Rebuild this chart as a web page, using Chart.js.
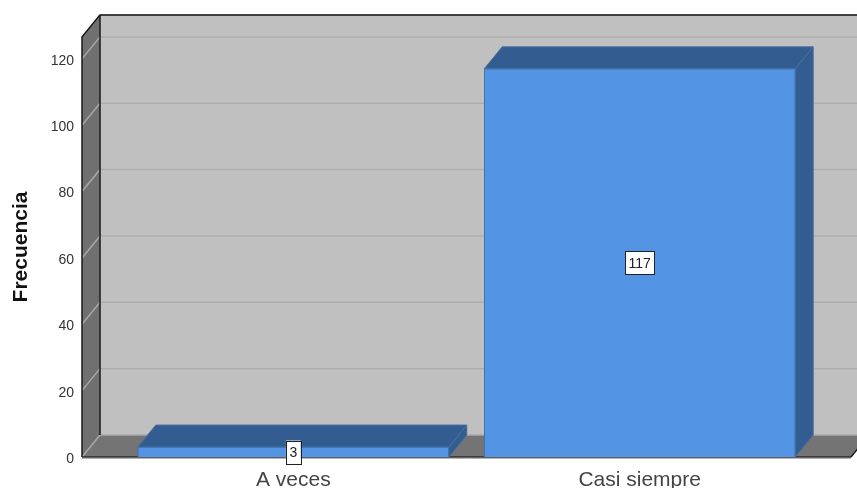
<!DOCTYPE html>
<html>
<head>
<meta charset="utf-8">
<style>
  html, body { margin: 0; padding: 0; background: #fff; overflow: hidden; }
  canvas { display: block; }
</style>
<script src="https://cdn.jsdelivr.net/npm/chart.js@4/dist/chart.umd.min.js"></script>
</head>
<body>
<canvas id="grafico" width="857" height="488"></canvas>
<script>
const categorias = ['A veces', 'Casi siempre'];
const posiciones = [0, 1];
const frecuencias = [3, 117];
const ejeY = [0, 20, 40, 60, 80, 100, 120];

// desplazamiento de la perspectiva 3D
const DX = 18, DY = 22;

function poly(ctx, pts, fill, stroke, lw) {
  ctx.beginPath();
  pts.forEach((p, i) => i ? ctx.lineTo(p[0], p[1]) : ctx.moveTo(p[0], p[1]));
  ctx.closePath();
  if (fill) { ctx.fillStyle = fill; ctx.fill(); }
  if (stroke) { ctx.strokeStyle = stroke; ctx.lineWidth = lw || 1; ctx.stroke(); }
}

function linea(ctx, x1, y1, x2, y2, color, lw) {
  ctx.beginPath();
  ctx.moveTo(x1, y1);
  ctx.lineTo(x2, y2);
  ctx.strokeStyle = color;
  ctx.lineWidth = lw;
  ctx.stroke();
}

const caja3D = {
  id: 'caja3D',
  beforeDraw(chart) {
    // baja un poco las etiquetas del eje Y
    chart.scales.y.getLabelItems().forEach(it => {
      if (!it.bajada) { it.options.translation[1] += 2; it.bajada = true; }
    });
  },
  beforeDatasetsDraw(chart) {
    const { ctx, chartArea: a, scales: { y } } = chart;
    ctx.save();
    // pared del fondo, pared lateral y piso
    poly(ctx, [[a.left + DX, a.top - DY], [a.right + DX, a.top - DY], [a.right + DX, a.bottom - DY], [a.left + DX, a.bottom - DY]], '#c0c0c0');
    poly(ctx, [[a.left, a.top], [a.left + DX, a.top - DY], [a.left + DX, a.bottom - DY], [a.left, a.bottom]], '#707070');
    poly(ctx, [[a.left, a.bottom], [a.left + DX, a.bottom - DY], [a.right + DX, a.bottom - DY], [a.right, a.bottom]], '#747474');
    ejeY.slice(1).concat([y.max]).forEach(v => {
      const py = y.getPixelForValue(v);
      linea(ctx, a.left + DX, py - DY, a.right + DX, py - DY, '#aeaeae', 1.5);
      linea(ctx, a.left, py, a.left + DX, py - DY, '#a8a8a8', 1.5);
    });
    linea(ctx, a.left, a.bottom, a.left + DX, a.bottom - DY, '#a8a8a8', 1.5);
    linea(ctx, a.left + DX, a.bottom - DY, a.right + DX, a.bottom - DY, '#a8a8a8', 1.5);
    // bordes negros
    ctx.lineJoin = 'round';
    ctx.beginPath();
    ctx.moveTo(a.left, a.bottom);
    ctx.lineTo(a.left, a.top);
    ctx.lineTo(a.left + DX, a.top - DY);
    ctx.lineTo(a.right + DX, a.top - DY);
    ctx.moveTo(a.left + DX, a.top - DY);
    ctx.lineTo(a.left + DX, a.bottom - DY);
    ctx.strokeStyle = '#1a1a1a';
    ctx.lineWidth = 1.5;
    ctx.stroke();
    linea(ctx, a.left, a.bottom, a.right, a.bottom, '#2b2b2b', 1.5);
    linea(ctx, a.right, a.bottom, a.right + DX, a.bottom - DY, '#1a1a1a', 1.5);
    linea(ctx, a.left, a.bottom + 1.5, a.right, a.bottom + 1.5, '#b5b5b5', 1);
    // tapa y costado de cada barra
    chart.getDatasetMeta(0).data.forEach(b => {
      const l = b.x - b.width / 2, r = b.x + b.width / 2;
      poly(ctx, [[r, b.y], [r + DX, b.y - DY], [r + DX, b.base - DY], [r, b.base]], '#335c90', '#4a6f9e', 1);
      poly(ctx, [[l, b.y], [l + DX, b.y - DY], [r + DX, b.y - DY], [r, b.y]], '#335c90', '#4a6f9e', 1);
    });
    ctx.restore();
  },
  afterDatasetsDraw(chart) {
    const { ctx } = chart;
    ctx.save();
    ctx.font = '14px "Liberation Sans"';
    ctx.textAlign = 'center';
    ctx.textBaseline = 'middle';
    chart.getDatasetMeta(0).data.forEach((b, i) => {
      const txt = String(frecuencias[i]);
      const w = ctx.measureText(txt).width + 7;
      const h = 23;
      const cy = (b.y + b.base) / 2;
      ctx.fillStyle = '#fff';
      ctx.fillRect(b.x - w / 2, cy - h / 2, w, h);
      ctx.strokeStyle = '#222';
      ctx.lineWidth = 1;
      ctx.strokeRect(Math.round(b.x - w / 2) + 0.5, Math.round(cy - h / 2) + 0.5, Math.round(w), h);
      ctx.fillStyle = '#222';
      ctx.fillText(txt, b.x, cy + 1);
    });
    ctx.restore();
  }
};

new Chart(document.getElementById('grafico'), {
  type: 'bar',
  data: {
    datasets: [{
      data: posiciones.map((p, i) => ({ x: p, y: frecuencias[i] })),
      backgroundColor: '#5395e4',
      borderColor: '#3f6ea8',
      borderWidth: 1,
      barThickness: 311
    }]
  },
  options: {
    responsive: false,
    animation: false,
    layout: { padding: { top: 37, right: 6 } },
    plugins: { legend: { display: false }, tooltip: { enabled: false } },
    scales: {
      x: {
        type: 'linear',
        offset: false,
        min: -0.61,
        max: 1.61,
        grid: { display: false, drawTicks: false, offset: false },
        border: { display: false },
        afterBuildTicks(s) { s.ticks = posiciones.map(v => ({ value: v })); },
        afterFit(s) { s.height = 31; },
        ticks: {
          maxRotation: 0,
          autoSkip: false,
          padding: 11,
          color: '#444',
          font: { family: '"Liberation Sans"', size: 21 },
          callback: v => categorias[v]
        }
      },
      y: {
        min: 0,
        max: 126.6,
        grid: { display: false, drawTicks: false },
        border: { display: false },
        afterBuildTicks(s) { s.ticks = ejeY.map(v => ({ value: v })); },
        afterFit(s) { s.width = 82; },
        ticks: {
          padding: 8,
          color: '#333',
          font: { family: '"Liberation Sans"', size: 14 }
        },
        title: {
          display: true,
          text: 'Frecuencia',
          color: '#111',
          padding: { top: 9, bottom: 0 },
          font: { family: '"Liberation Sans"', size: 21, weight: 'bold' }
        }
      }
    }
  },
  plugins: [caja3D]
});
</script>
</body>
</html>
